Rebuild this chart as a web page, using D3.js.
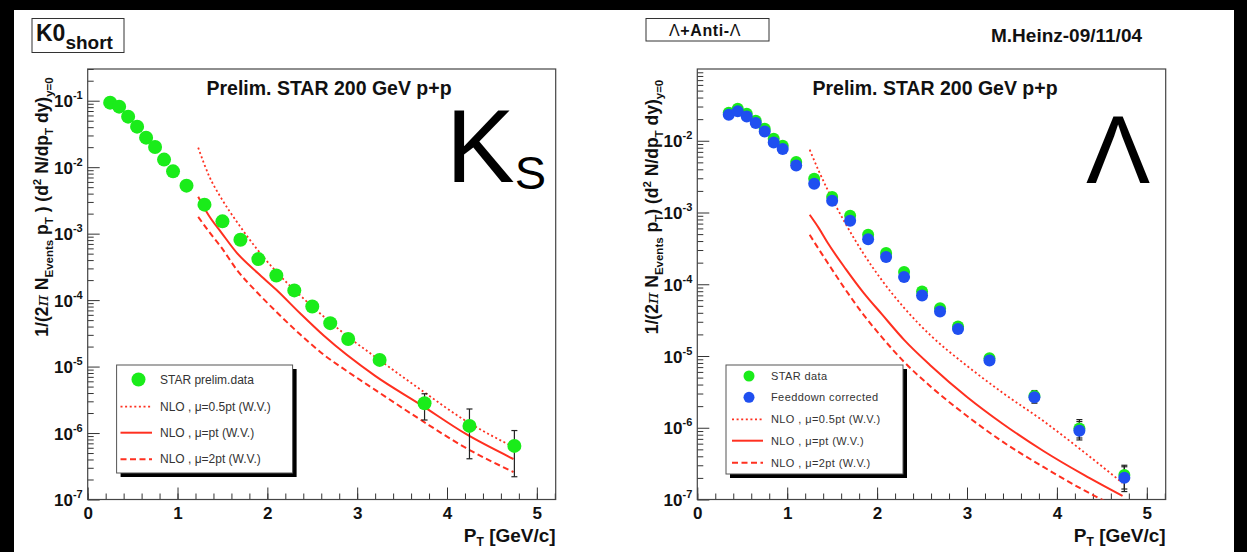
<!DOCTYPE html>
<html><head><meta charset="utf-8">
<script src="https://cdn.jsdelivr.net/npm/d3@7"></script>
<style>
html,body{margin:0;padding:0;background:#000;}
svg{display:block;}
</style></head><body>
<svg id="c" width="1247" height="552"></svg>
<script>
// ---------------- DATA ----------------
// K0 short panel
const k0Pt    = [0.25,0.35,0.45,0.55,0.65,0.75,0.85,0.95,1.1,1.3,1.5,1.7,1.9,2.1,2.3,2.5,2.7,2.9,3.25,3.75,4.25,4.75];
const k0Yield = [0.0935,0.0814,0.0576,0.0407,0.0278,0.0201,0.0130,0.00865,0.00527,0.00273,0.00153,0.00081,0.000414,0.000234,0.00014,8.0e-5,4.5e-5,2.6e-5,1.26e-5,2.81e-6,1.28e-6,6.4e-7];
const k0ErrPt   = [3.75,4.25,4.75];
const k0ErrLow  = [1.57e-6,4.1e-7,2.2e-7];
const k0ErrHigh = [3.9e-6,2.3e-6,1.09e-6];

const k0NloHalfPtX = [1.23,1.35,1.49,1.66,1.89,2.1,2.37,2.63,2.9,3.2,3.71,4.21,4.74];
const k0NloHalfPt  = [1.97e-2,7.44e-3,3.36e-3,1.51e-3,5.73e-4,2.67e-4,1.16e-4,5.61e-5,2.8e-5,1.4e-5,4.46e-6,1.52e-6,6.18e-7];
const k0NloPt1X    = [1.23,1.35,1.49,1.66,1.89,2.1,2.37,2.63,3.2,3.71,4.21,4.74];
const k0NloPt1     = [3.6e-3,1.86e-3,1.03e-3,5.15e-4,2.58e-4,1.43e-4,6.22e-5,2.9e-5,7.24e-6,2.65e-6,9.68e-7,4.07e-7];
const k0NloTwoPtX  = [1.23,1.35,1.49,1.66,1.89,2.1,2.37,2.63,2.9,3.2,3.71,4.21,4.74];
const k0NloTwoPt   = [1.79e-3,1.07e-3,6.14e-4,2.86e-4,1.29e-4,6.67e-5,3.0e-5,1.5e-5,8.3e-6,4.46e-6,1.57e-6,5.97e-7,2.59e-7];

// Lambda + anti-Lambda panel
const lamPt       = [0.35,0.45,0.55,0.65,0.75,0.85,0.95,1.1,1.3,1.5,1.7,1.9,2.1,2.3,2.5,2.7,2.9,3.25,3.75,4.25,4.75];
const lamData     = [0.0245,0.0279,0.0238,0.0190,0.0147,0.01066,0.00851,0.00505,0.00295,0.00164,9.0e-4,4.89e-4,2.72e-4,1.48e-4,7.9e-5,4.64e-5,2.57e-5,9.3e-6,2.77e-6,9.78e-7,2.2e-7];
const lamFeeddown = [0.0231,0.0257,0.0218,0.0177,0.0135,0.00947,0.00766,0.00453,0.00251,0.00146,7.7e-4,4.25e-4,2.39e-4,1.26e-4,6.95e-5,4.16e-5,2.37e-5,8.63e-6,2.66e-6,9.1e-7,2.01e-7];
const lamErrPt        = [3.75,4.25,4.75];
const lamDataErrLow   = [2.3e-6,7.2e-7,1.4e-7];
const lamDataErrHigh  = [3.3e-6,1.3e-6,3.0e-7];
const lamFeedErrLow   = [2.2e-6,6.76e-7,1.29e-7];
const lamFeedErrHigh  = [3.18e-6,1.22e-6,2.86e-7];

const lamNloPtX     = [1.25,1.35,1.45,1.65,1.85,2.05,2.3,2.6,3.0,3.4,3.85,4.3,4.73];
const lamNloHalfPt  = [7.5e-3,3.82e-3,2.07e-3,6.95e-4,2.65e-4,1.15e-4,4.69e-5,1.91e-5,7.28e-6,3.05e-6,1.24e-6,4.59e-7,1.7e-7];
const lamNloPt1     = [9.29e-4,6.1e-4,3.78e-4,1.64e-4,7.59e-5,3.86e-5,1.68e-5,7.28e-6,2.69e-6,1.13e-6,4.74e-7,2.2e-7,1.12e-7];
const lamNloTwoPt   = [4.89e-4,3.1e-4,1.99e-4,8.35e-5,3.74e-5,1.85e-5,8.28e-6,3.71e-6,1.46e-6,6.34e-7,2.84e-7,1.35e-7,7.14e-8];

// Axis ticks and labels
const xMajorTicks = [0,1,2,3,4,5];
const xMinorTicks = d3.range(0, 5.21, 0.2);
const k0Decades   = [1e-7,1e-6,1e-5,1e-4,1e-3,1e-2,1e-1];
const lamDecades  = [1e-7,1e-6,1e-5,1e-4,1e-3,1e-2];
const legendK0    = ["STAR prelim.data","NLO , μ=0.5pt (W.V.)","NLO , μ=pt (W.V.)","NLO , μ=2pt (W.V.)"];
const legendLam   = ["STAR data","Feeddown corrected","NLO , μ=0.5pt (W.V.)","NLO , μ=pt (W.V.)","NLO , μ=2pt (W.V.)"];

// ---------------- DRAWING ----------------
const FONT = "'Liberation Sans', Arial, Helvetica, sans-serif";
const RED = "#ff3020", GREEN = "#1aec1a", BLUE = "#1f4ff0", AXC = "#333";
const svg = d3.select("#c");
svg.append("rect").attr("width",1247).attr("height",552).attr("fill","#000");
svg.append("rect").attr("x",14).attr("y",10).attr("width",1220).attr("height",542).attr("fill","#fff");

const zip = (a,b) => a.map((v,i)=>[v,b[i]]);

function minorTicks(maxV){
  const out=[];
  for(let e=-7;e<=-1;e++) for(let m=2;m<=9;m++){ const v=m*Math.pow(10,e); if(v<=maxV*1.0001) out.push(v); }
  return out;
}

function drawPanel(p){
  const g = svg.append("g");
  const x = d3.scaleLinear().domain([0,5.21]).range([p.x0,p.x1]);
  const y = d3.scaleLog().domain(p.yDomain).range([p.y1,p.y0]);
  const id = "clip"+p.name;
  svg.append("clipPath").attr("id",id).append("rect")
    .attr("x",p.x0).attr("y",p.y0).attr("width",p.x1-p.x0).attr("height",p.y1-p.y0);

  // axes
  const gx = g.append("g").attr("transform",`translate(0,${p.y1})`)
    .call(d3.axisBottom(x).tickValues(xMajorTicks).tickSizeInner(-12).tickSizeOuter(0).tickFormat(d3.format("d")));
  gx.select(".domain").remove();
  gx.selectAll("line").attr("stroke",AXC);
  gx.selectAll("text").attr("y",19).attr("dy",null).attr("font-family",FONT).attr("font-size",17).attr("font-weight","bold").attr("fill","#111");
  const gxm = g.append("g").attr("transform",`translate(0,${p.y1})`)
    .call(d3.axisBottom(x).tickValues(xMinorTicks).tickSizeInner(-6).tickSizeOuter(0).tickFormat(""));
  gxm.select(".domain").remove();
  gxm.selectAll("line").attr("stroke",AXC);

  const gy = g.append("g").attr("transform",`translate(${p.x0},0)`)
    .call(d3.axisLeft(y).tickValues(p.decades).tickSizeInner(-12).tickSizeOuter(0).tickFormat(()=>""));
  gy.select(".domain").remove();
  gy.selectAll("line").attr("stroke",AXC);
  gy.selectAll(".tick text").each(function(d){
    const t = d3.select(this).attr("x",-5).attr("dy",null).attr("y",6)
      .attr("font-family",FONT).attr("font-weight","bold").attr("fill","#111").attr("text-anchor","end");
    t.append("tspan").attr("font-size",17).text("10");
    t.append("tspan").attr("font-size",11).attr("dy",-8).text(String(Math.round(Math.log10(d))));
  });
  const gym = g.append("g").attr("transform",`translate(${p.x0},0)`)
    .call(d3.axisLeft(y).tickValues(minorTicks(p.yDomain[1])).tickSizeInner(-6).tickSizeOuter(0).tickFormat(""));
  gym.select(".domain").remove();
  gym.selectAll("line").attr("stroke",AXC);

  // frame
  g.append("rect").attr("x",p.x0).attr("y",p.y0).attr("width",p.x1-p.x0).attr("height",p.y1-p.y0)
    .attr("fill","none").attr("stroke","#444").attr("stroke-width",1.2);

  // NLO curves
  const line = d3.line().x(d=>x(d[0])).y(d=>y(d[1])).curve(d3.curveMonotoneX);
  const cg = g.append("g").attr("clip-path",`url(#${id})`);
  p.curves.forEach(c=>{
    cg.append("path").attr("d",line(zip(c.pt,c.val))).attr("fill","none")
      .attr("stroke",RED).attr("stroke-width",c.w).attr("stroke-dasharray",c.dash);
  });

  // error bars + markers
  p.series.forEach(s=>{
    const eg = g.append("g").attr("stroke","#222").attr("stroke-width",1.2);
    s.errPt.forEach((pt,i)=>{
      const xx=x(pt), ylo=y(s.errLow[i]), yhi=y(s.errHigh[i]);
      eg.append("line").attr("x1",xx).attr("x2",xx).attr("y1",ylo).attr("y2",yhi);
      eg.append("line").attr("x1",xx-3).attr("x2",xx+3).attr("y1",ylo).attr("y2",ylo);
      eg.append("line").attr("x1",xx-3).attr("x2",xx+3).attr("y1",yhi).attr("y2",yhi);
    });
  });
  p.series.forEach(s=>{
    g.append("g").selectAll("circle").data(zip(s.pt,s.val)).join("circle")
      .attr("cx",d=>x(d[0])).attr("cy",d=>y(d[1])).attr("r",s.r).attr("fill",s.color);
  });

  // title "Prelim."
  g.append("text").attr("x",p.titleX).attr("y",95).attr("text-anchor","middle")
    .attr("font-family",FONT).attr("font-weight","bold").attr("font-size",19.5).attr("fill","#111")
    .text("Prelim. STAR 200 GeV p+p");

  // x title
  const xt = g.append("text").attr("x",p.x1).attr("y",542).attr("text-anchor","end")
    .attr("font-family",FONT).attr("font-weight","bold").attr("font-size",19).attr("fill","#111");
  xt.append("tspan").text("P");
  xt.append("tspan").attr("font-size",12).attr("dy",4).text("T");
  xt.append("tspan").attr("dy",-4).text("  [GeV/c]");

  // y title
  const yt = g.append("text").attr("transform",`translate(${p.yTitleX},207) rotate(-90)`)
    .attr("text-anchor","middle").attr("font-family",FONT).attr("font-weight","bold")
    .attr("font-size",17.5).attr("fill","#111");
  const parts = [["1/(2",0],["π",0,"it"],[" N",0],["Events",1],[" p",0],["T",1],[p.name==="k0"?" ) (d":") (d",0],["2",-1],[" N/dp",0],["T",1],[" dy)",0],["y=0",1]];
  let cur=0;
  parts.forEach(([t,lvl,st])=>{
    const target = lvl===1?5:(lvl===-1?-7:0);
    const ts = yt.append("tspan").attr("dy",target-cur).text(t);
    if(lvl!==0) ts.attr("font-size",11.5);
    if(st==="it") ts.attr("font-style","italic").attr("font-family","'DejaVu Serif', serif").attr("font-weight","normal");
    cur=target;
  });

  // legend
  const L = p.legend;
  g.append("rect").attr("x",L.x+4).attr("y",L.y+4).attr("width",L.w).attr("height",L.h).attr("fill","#000");
  g.append("rect").attr("x",L.x).attr("y",L.y).attr("width",L.w).attr("height",L.h).attr("fill","#fff").attr("stroke","#555").attr("stroke-width",1);
  L.entries.forEach((e,i)=>{
    const yy = L.rows[i];
    if(e.type==="marker"){
      g.append("circle").attr("cx",L.symX).attr("cy",yy).attr("r",e.r).attr("fill",e.color);
    } else {
      g.append("line").attr("x1",L.lineX0).attr("x2",L.lineX1).attr("y1",yy).attr("y2",yy)
        .attr("stroke",RED).attr("stroke-width",e.w).attr("stroke-dasharray",e.dash);
    }
    g.append("text").attr("x",L.textX).attr("y",yy+4).attr("font-family",FONT).attr("font-size",L.fs)
      .attr("letter-spacing",L.ls).attr("fill","#333").text(e.label);
  });
}

const dotted = {w:1.8,dash:"2,2.6"}, solid={w:2,dash:null}, dashed={w:2,dash:"6,3.5"};

drawPanel({
  name:"k0", x0:87.7, x1:555.7, y0:69, y1:499.5, yDomain:[1e-7,0.3], decades:k0Decades,
  titleX:329, yTitleX:48,
  curves:[
    Object.assign({pt:k0NloHalfPtX,val:k0NloHalfPt},dotted),
    Object.assign({pt:k0NloPt1X,val:k0NloPt1},solid),
    Object.assign({pt:k0NloTwoPtX,val:k0NloTwoPt},dashed)
  ],
  series:[{pt:k0Pt,val:k0Yield,r:7,color:GREEN,errPt:k0ErrPt,errLow:k0ErrLow,errHigh:k0ErrHigh}],
  legend:{x:116.6,y:365,w:176,h:108,symX:138.5,lineX0:120.5,lineX1:152,textX:160,fs:12,ls:0,
    rows:[379.5,406.7,432.7,459.3],
    entries:[
      {type:"marker",r:7,color:GREEN,label:legendK0[0]},
      Object.assign({type:"line",label:legendK0[1]},dotted),
      Object.assign({type:"line",label:legendK0[2]},solid),
      Object.assign({type:"line",label:legendK0[3]},dashed)
    ]}
});

drawPanel({
  name:"lam", x0:697.3, x1:1165.7, y0:69, y1:499.5, yDomain:[1e-7,0.1], decades:lamDecades,
  titleX:935, yTitleX:657.5,
  curves:[
    Object.assign({pt:lamNloPtX,val:lamNloHalfPt},dotted),
    Object.assign({pt:lamNloPtX,val:lamNloPt1},solid),
    Object.assign({pt:lamNloPtX,val:lamNloTwoPt},dashed)
  ],
  series:[
    {pt:lamPt,val:lamData,r:6,color:GREEN,errPt:lamErrPt,errLow:lamDataErrLow,errHigh:lamDataErrHigh},
    {pt:lamPt,val:lamFeeddown,r:6,color:BLUE,errPt:lamErrPt,errLow:lamFeedErrLow,errHigh:lamFeedErrHigh}
  ],
  legend:{x:726,y:365,w:177,h:109,symX:749,lineX0:732,lineX1:763,textX:771,fs:11,ls:0.4,
    rows:[376,397.3,419.3,440.7,462.7],
    entries:[
      {type:"marker",r:5.5,color:GREEN,label:legendLam[0]},
      {type:"marker",r:5.5,color:BLUE,label:legendLam[1]},
      Object.assign({type:"line",label:legendLam[2]},dotted),
      Object.assign({type:"line",label:legendLam[3]},solid),
      Object.assign({type:"line",label:legendLam[4]},dashed)
    ]}
});

// header boxes and labels
svg.append("rect").attr("x",32).attr("y",18.5).attr("width",92).attr("height",34).attr("fill","#fff").attr("stroke","#333").attr("stroke-width",1);
const kt = svg.append("text").attr("x",36).attr("y",41).attr("font-family",FONT).attr("font-weight","bold").attr("font-size",23).attr("fill","#111");
kt.append("tspan").text("K0");
kt.append("tspan").attr("font-size",19).attr("dy",8).text("short");

svg.append("rect").attr("x",646).attr("y",18.5).attr("width",123).attr("height",22.5).attr("fill","#fff").attr("stroke","#333").attr("stroke-width",1);
const lt = svg.append("text").attr("x",705).attr("y",35.5).attr("text-anchor","middle").attr("font-family",FONT).attr("font-size",16).attr("fill","#111").attr("letter-spacing",0.6);
lt.append("tspan").text("Λ");
lt.append("tspan").attr("font-weight","bold").text("+Anti-");
lt.append("tspan").text("Λ");

svg.append("text").attr("x",991).attr("y",42).attr("font-family",FONT).attr("font-weight","bold").attr("font-size",19).attr("fill","#111").text("M.Heinz-09/11/04");

const ks = svg.append("text").attr("x",446).attr("y",182).attr("font-family",FONT).attr("font-size",103).attr("fill","#000");
ks.append("tspan").text("K");
ks.append("tspan").attr("font-size",47).attr("dy",7).text("S");

svg.append("text").attr("x",1118).attr("y",183).attr("text-anchor","middle").attr("font-family",FONT).attr("font-size",96).attr("fill","#000").text("Λ");
</script>
</body></html>
